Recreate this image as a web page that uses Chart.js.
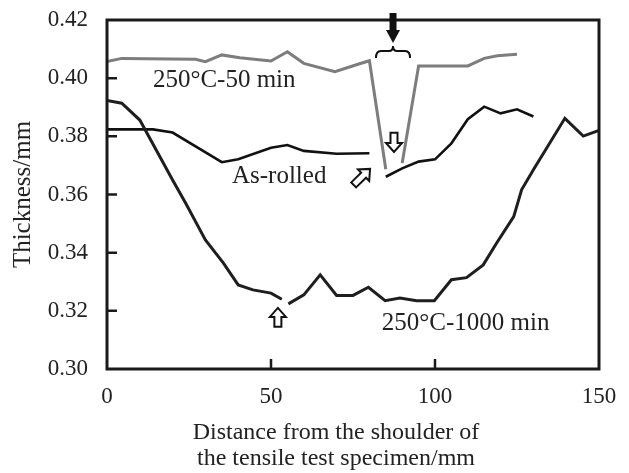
<!DOCTYPE html>
<html>
<head>
<meta charset="utf-8">
<script src="https://cdn.jsdelivr.net/npm/chart.js@4.4.1/dist/chart.umd.min.js"></script>
<style>
    html, body { margin: 0; padding: 0; background: #fff; }
    #wrap { width: 629px; height: 473px; position: relative; }
</style>
</head>
<body>
<div id="wrap"><canvas id="thicknessChart"></canvas></div>
<script>
// distance from shoulder (mm) / thickness (mm); null = broken line at the fracture
const rolledX = [0, 14, 20, 35, 40, 50, 55, 60, 70, 80, 82.5, 85, 90, 95, 100, 105, 110, 115, 120, 125, 130];
const rolledY = [0.3824, 0.3824, 0.3813, 0.3711, 0.3721, 0.3761, 0.3770, 0.3750, 0.3740, 0.3742, null,
    0.3661, 0.3690, 0.3713, 0.3721, 0.3776, 0.3859, 0.3902, 0.3879, 0.3893, 0.3868];

const min50X = [0, 4.5, 27, 30, 35, 40.5, 50, 55, 60, 69.5, 76.5, 80, 85, 87.5, 90, 95, 110, 115, 119, 125];
const min50Y = [0.4057, 0.4068, 0.4065, 0.4057, 0.4080, 0.4070, 0.4059, 0.4091, 0.4051, 0.4022, 0.4048, 0.4060,
    0.3687, null, 0.3708, 0.4042, 0.4042, 0.4068, 0.4077, 0.4082];

const min1000X = [0, 4.5, 10, 20, 24, 30, 35.5, 40, 44.5, 50, 53.3, 54.3, 55.3, 60, 65, 70, 75, 79.7, 84.8,
    89.3, 94.4, 99.8, 105, 109.6, 114.7, 118.8, 124, 126.4, 130, 139.6, 145.2, 150];
const min1000Y = [0.3923, 0.3914, 0.3856, 0.3650, 0.3570, 0.3444, 0.3364, 0.3289, 0.3272, 0.3261, 0.3240, null,
    0.3224, 0.3255, 0.3324, 0.3253, 0.3253, 0.3281, 0.3235, 0.3244, 0.3235, 0.3235, 0.3307, 0.3314, 0.3358,
    0.3433, 0.3524, 0.3616, 0.3685, 0.3862, 0.3801, 0.3820];

const xTicks = [0, 50, 100, 150];
const yTicks = [0.30, 0.32, 0.34, 0.36, 0.38, 0.40, 0.42];

const curveLabels = [
    { text: '250°C-50 min', x: 14, y: 0.3970 },
    { text: 'As-rolled', x: 38.1, y: 0.3640 },
    { text: '250°C-1000 min', x: 83.8, y: 0.3135 }
];

const SERIF = '"Liberation Serif", "DejaVu Serif", serif';

const toPoints = (xs, ys) => xs.map((x, i) => ({ x: x, y: ys[i] }));

const hollowArrow = (ctx, tx, ty, bx, by) => {
    const dx = tx - bx, dy = ty - by;
    const len = Math.hypot(dx, dy);
    const ux = dx / len, uy = dy / len;
    const nx = -uy, ny = ux;
    const shaft = 3.5, head = 8, headLen = 9;
    const hx = tx - ux * headLen, hy = ty - uy * headLen;
    ctx.beginPath();
    ctx.moveTo(bx + nx * shaft, by + ny * shaft);
    ctx.lineTo(hx + nx * shaft, hy + ny * shaft);
    ctx.lineTo(hx + nx * head, hy + ny * head);
    ctx.lineTo(tx, ty);
    ctx.lineTo(hx - nx * head, hy - ny * head);
    ctx.lineTo(hx - nx * shaft, hy - ny * shaft);
    ctx.lineTo(bx - nx * shaft, by - ny * shaft);
    ctx.closePath();
    ctx.fillStyle = '#fff';
    ctx.fill();
    ctx.lineWidth = 2;
    ctx.strokeStyle = '#111';
    ctx.stroke();
};

const decorations = {
    id: 'decorations',
    afterDraw(chart) {
        const { ctx, chartArea: a, scales } = chart;
        const px = v => scales.x.getPixelForValue(v);
        const py = v => scales.y.getPixelForValue(v);
        ctx.save();

        // frame
        ctx.strokeStyle = '#1a1a1a';
        ctx.lineWidth = 3;
        ctx.strokeRect(a.left, a.top, a.right - a.left, a.bottom - a.top);

        // inward tick marks
        ctx.lineWidth = 2.5;
        ctx.beginPath();
        yTicks.slice(1, -1).forEach(v => {
            ctx.moveTo(a.left, py(v));
            ctx.lineTo(a.left + 10, py(v));
        });
        xTicks.slice(1, -1).forEach(v => {
            ctx.moveTo(px(v), a.bottom);
            ctx.lineTo(px(v), a.bottom - 10);
        });
        ctx.stroke();

        // curve labels
        ctx.fillStyle = '#222';
        ctx.font = '25px ' + SERIF;
        ctx.textAlign = 'left';
        ctx.textBaseline = 'alphabetic';
        curveLabels.forEach(l => ctx.fillText(l.text, px(l.x), py(l.y)));

        // filled arrow marking the fracture position
        const ax = px(87.2);
        ctx.fillStyle = '#111';
        ctx.fillRect(ax - 3.5, a.top - 7, 7, 18);
        ctx.beginPath();
        ctx.moveTo(ax - 7, a.top + 10);
        ctx.lineTo(ax + 7, a.top + 10);
        ctx.lineTo(ax, a.top + 23);
        ctx.closePath();
        ctx.fill();

        // brace
        const b0 = px(82), b1 = px(92.4), bm = (b0 + b1) / 2, by = a.top + 31;
        ctx.lineWidth = 2;
        ctx.strokeStyle = '#111';
        ctx.beginPath();
        ctx.moveTo(b0, by + 7);
        ctx.quadraticCurveTo(b0, by, b0 + 5, by);
        ctx.lineTo(bm - 4, by);
        ctx.quadraticCurveTo(bm, by, bm, by - 5);
        ctx.quadraticCurveTo(bm, by, bm + 4, by);
        ctx.lineTo(b1 - 5, by);
        ctx.quadraticCurveTo(b1, by, b1, by + 7);
        ctx.stroke();

        // hollow arrows
        hollowArrow(ctx, px(87.5), py(0.3746), px(87.5), py(0.3812));
        hollowArrow(ctx, px(80.2), py(0.3688), px(75.2), py(0.3633));
        hollowArrow(ctx, px(52.1), py(0.3210), px(52.1), py(0.3145));

        // axis titles
        ctx.fillStyle = '#222';
        ctx.font = '24px ' + SERIF;
        ctx.textAlign = 'center';
        ctx.fillText('Distance from the shoulder of', 336, 439);
        ctx.fillText('the tensile test specimen/mm', 336, 465);
        ctx.translate(30, (a.top + a.bottom) / 2);
        ctx.rotate(-Math.PI / 2);
        ctx.font = '25px ' + SERIF;
        ctx.fillText('Thickness/mm', 0, 0);
        ctx.restore();
    }
};

const lineSet = (data, color, width, dash) => ({
    data: data,
    borderColor: color,
    borderWidth: width,
    borderDash: dash || [],
    pointRadius: 0,
    tension: 0,
    spanGaps: false,
    fill: false
});

new Chart(document.getElementById('thicknessChart'), {
    type: 'line',
    data: {
        datasets: [
            lineSet(toPoints(min50X, min50Y), '#7d7d7d', 3),
            lineSet(toPoints(min50X, min50Y), '#2a2a2a', 1.3, [1.5, 2]),
            lineSet(toPoints(min1000X, min1000Y), '#1e1e1e', 3),
            lineSet(toPoints(min1000X, min1000Y), '#c8c8c8', 1.1, [2, 3.5]),
            lineSet(toPoints(rolledX, rolledY), '#111', 2.6)
        ]
    },
    options: {
        responsive: true,
        maintainAspectRatio: false,
        animation: false,
        layout: { padding: { top: 20, right: 30, left: 0, bottom: 0 } },
        plugins: { legend: { display: false }, tooltip: { enabled: false } },
        scales: {
            x: {
                type: 'linear',
                min: 0,
                max: 150,
                afterFit: s => { s.height = 104; s.paddingLeft = 0; s.paddingRight = 0; },
                afterBuildTicks: s => { s.ticks = xTicks.map(v => ({ value: v })); },
                grid: { display: false, drawTicks: false },
                border: { display: false },
                ticks: { color: '#222', padding: 14, font: { family: SERIF, size: 23 } }
            },
            y: {
                min: 0.30,
                max: 0.42,
                afterFit: s => { s.width = 107; s.paddingTop = 0; s.paddingBottom = 0; },
                afterBuildTicks: s => { s.ticks = yTicks.map(v => ({ value: v })); },
                grid: { display: false, drawTicks: false },
                border: { display: false },
                ticks: {
                    color: '#222',
                    padding: 19,
                    font: { family: SERIF, size: 23 },
                    callback: v => v.toFixed(2)
                }
            }
        }
    },
    plugins: [decorations]
});
</script>
</body>
</html>
